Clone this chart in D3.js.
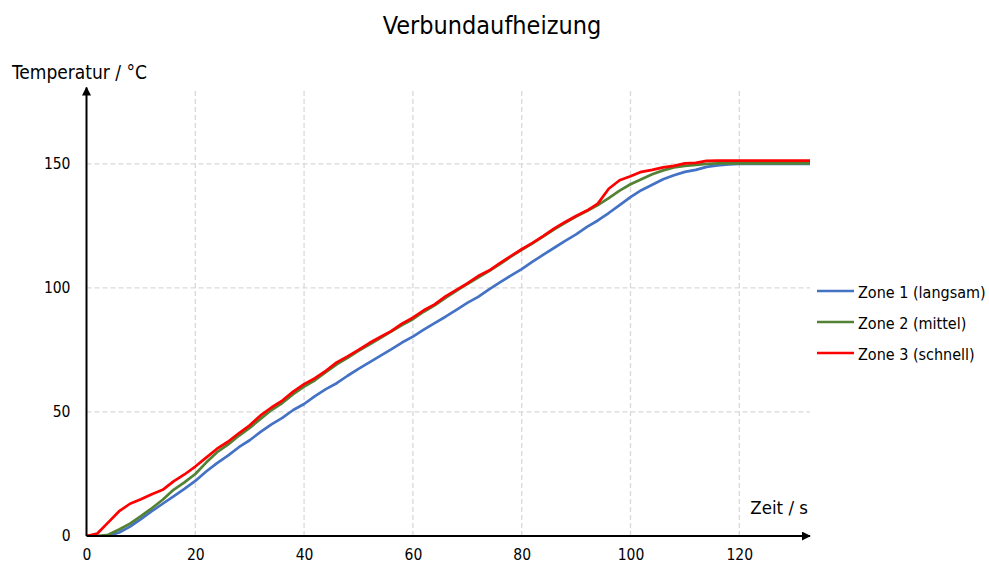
<!DOCTYPE html>
<html>
<head>
<meta charset="utf-8">
<script src="https://cdn.jsdelivr.net/npm/d3@7/dist/d3.min.js"></script>
<style>
  html, body { margin: 0; padding: 0; background: #fff; }
  svg { display: block; }
  text { font-family: "DejaVu Sans Condensed", "DejaVu Sans", sans-serif; fill: #000; }
</style>
</head>
<body>
<svg id="chart" width="989" height="563"></svg>
<script>
// Zeit in Sekunden (Abtastung alle 2 s)
const zeit = d3.range(0, 136, 2);

// Temperaturverlauf je Zone in °C
const zone1 = [0, 0, 0, 1.4, 3.8, 6.8, 10.0, 13.0, 16.0, 19.0,
  22.2, 26.0, 29.4, 32.4, 35.8, 38.6, 42.0, 45.0, 47.6, 50.8,
  53.2, 56.4, 59.2, 61.6, 64.6, 67.4, 70.0, 72.6, 75.2, 78.0,
  80.4, 83.2, 85.8, 88.4, 91.2, 94.0, 96.4, 99.4, 102.2, 105.0,
  107.6, 110.6, 113.4, 116.2, 119.0, 121.6, 124.6, 127.2, 130.2, 133.4,
  136.6, 139.4, 141.6, 143.8, 145.4, 146.8, 147.6, 148.8, 149.4, 149.8,
  150.0, 150.0, 150.0, 150.0, 150.0, 150.0, 150.0, 150.0];
const zone2 = [0, 0, 0.5, 2.6, 5.0, 8.0, 11.2, 14.6, 18.6, 21.6,
  25.0, 29.6, 33.8, 36.8, 40.4, 43.6, 47.2, 50.8, 53.6, 57.2,
  60.2, 62.8, 66.0, 69.2, 71.8, 74.6, 77.2, 79.8, 82.4, 85.0,
  87.4, 90.4, 93.0, 96.0, 98.8, 101.6, 104.2, 106.8, 109.6, 112.6,
  115.4, 118.0, 120.8, 123.6, 126.2, 128.8, 131.0, 133.4, 136.2, 139.2,
  141.8, 143.8, 145.8, 147.4, 148.6, 149.2, 149.6, 150.0, 150.2, 150.2,
  150.2, 150.2, 150.2, 150.2, 150.2, 150.2, 150.2, 150.2];
const zone3 = [0, 1.0, 5.5, 10.0, 13.0, 14.8, 16.8, 18.6, 22.0, 24.8,
  28.0, 31.6, 35.2, 38.0, 41.4, 44.6, 48.6, 51.8, 54.6, 58.2,
  61.2, 63.6, 66.6, 70.0, 72.4, 75.0, 77.8, 80.2, 82.6, 85.6,
  88.0, 91.0, 93.4, 96.6, 99.2, 101.8, 104.8, 107.0, 110.0, 112.8,
  115.6, 118.2, 121.0, 124.0, 126.6, 129.0, 131.2, 134.0, 140.0, 143.4,
  145.0, 146.8, 147.6, 148.6, 149.2, 150.2, 150.4, 151.2, 151.3, 151.3,
  151.3, 151.3, 151.3, 151.3, 151.3, 151.3, 151.3, 151.3];

const serienNamen = ["Zone 1 (langsam)", "Zone 2 (mittel)", "Zone 3 (schnell)"];
const serienFarben = ["#4472C4", "#548235", "#FF0000"];
const xTicks = [0, 20, 40, 60, 80, 100, 120];
const yTicks = [0, 50, 100, 150];

const serien = [zone1, zone2, zone3].map((werte, i) => ({
  name: serienNamen[i],
  farbe: serienFarben[i],
  punkte: zeit.map((t, j) => ({ t, v: werte[j] }))
}));

const svg = d3.select("#chart");
const plotLinks = 86.5, plotRechts = 810, plotOben = 89.5, plotUnten = 536;

const x = d3.scaleLinear().domain([0, 133]).range([plotLinks, plotRechts]);
const y = d3.scaleLinear().domain([0, 180]).range([plotUnten, plotOben]);

// Gitterlinien
const grid = svg.append("g");
grid.selectAll(".gx").data(xTicks.filter(d => d > 0)).join("line")
  .attr("x1", d => x(d)).attr("x2", d => x(d))
  .attr("y1", plotUnten).attr("y2", plotOben)
  .attr("stroke", "#d9d9d9").attr("stroke-width", 1.3)
  .attr("stroke-dasharray", "5,3");
grid.selectAll(".gy").data(yTicks.filter(d => d > 0)).join("line")
  .attr("x1", plotLinks).attr("x2", plotRechts)
  .attr("y1", d => y(d)).attr("y2", d => y(d))
  .attr("stroke", "#d9d9d9").attr("stroke-width", 1.3)
  .attr("stroke-dasharray", "5,3");

// Kurven
svg.append("clipPath").attr("id", "plotClip").append("rect")
  .attr("x", plotLinks).attr("y", plotOben - 10)
  .attr("width", plotRechts - plotLinks).attr("height", plotUnten - plotOben + 10);

const linie = d3.line().x(d => x(d.t)).y(d => y(d.v)).curve(d3.curveLinear);
svg.append("g").attr("clip-path", "url(#plotClip)")
  .selectAll("path").data(serien).join("path")
  .attr("d", d => linie(d.punkte))
  .attr("fill", "none")
  .attr("stroke", d => d.farbe)
  .attr("stroke-width", 2.7)
  .attr("stroke-linejoin", "round");

// Achsen
const xAxis = d3.axisBottom(x).tickValues(xTicks).tickSize(0).tickPadding(13);
const gx = svg.append("g").attr("transform", `translate(0,${plotUnten})`).call(xAxis);
gx.select(".domain").remove();
gx.attr("font-family", null).attr("font-size", null);
gx.selectAll("text").attr("font-size", 15.5);

const yAxis = d3.axisLeft(y).tickValues(yTicks).tickSize(0).tickPadding(16);
const gy = svg.append("g").attr("transform", `translate(${plotLinks},0)`).call(yAxis);
gy.select(".domain").remove();
gy.attr("font-family", null).attr("font-size", null);
gy.selectAll("text").attr("font-size", 15.5);

svg.append("defs").append("marker")
  .attr("id", "pfeil").attr("viewBox", "0 0 10 10")
  .attr("refX", 9).attr("refY", 5)
  .attr("markerWidth", 4.5).attr("markerHeight", 4.5)
  .attr("orient", "auto")
  .append("path").attr("d", "M0,0 L10,5 L0,10 z").attr("fill", "#000");

svg.append("line")
  .attr("x1", plotLinks).attr("x2", plotRechts)
  .attr("y1", plotUnten).attr("y2", plotUnten)
  .attr("stroke", "#000").attr("stroke-width", 2)
  .attr("marker-end", "url(#pfeil)");
svg.append("line")
  .attr("x1", plotLinks).attr("x2", plotLinks)
  .attr("y1", plotUnten).attr("y2", plotOben - 2)
  .attr("stroke", "#000").attr("stroke-width", 2)
  .attr("marker-end", "url(#pfeil)");

// Beschriftungen
svg.append("text").attr("x", 492).attr("y", 34)
  .attr("text-anchor", "middle").attr("font-size", 25)
  .text("Verbundaufheizung");
svg.append("text").attr("x", 12).attr("y", 79)
  .attr("font-size", 19).text("Temperatur / °C");
svg.append("text").attr("x", 808).attr("y", 514)
  .attr("text-anchor", "end").attr("font-size", 18.5).text("Zeit / s");

// Legende
const legende = svg.append("g").selectAll("g").data(serien).join("g")
  .attr("transform", (d, i) => `translate(817,${291 + i * 31})`);
legende.append("line").attr("x1", 0).attr("x2", 37).attr("y1", 0).attr("y2", 0)
  .attr("stroke", d => d.farbe).attr("stroke-width", 2.7);
legende.append("text").attr("x", 41).attr("y", 6.5)
  .attr("font-size", 16).text(d => d.name);
</script>
</body>
</html>
